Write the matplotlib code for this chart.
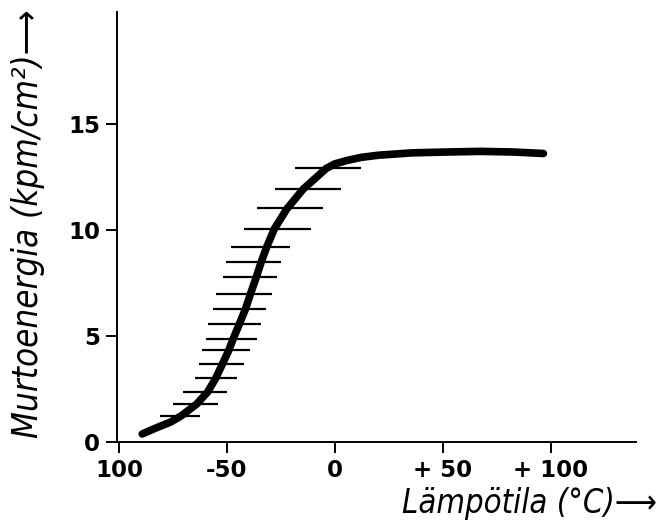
import matplotlib
matplotlib.use('Agg')
import matplotlib.pyplot as plt

# curve (temperature in degC, impact energy in kpm/cm2)
curve_t = [-89.2, -82.9, -76.1, -71.2, -64.0, -58.9, -55.1, -52.1, -49.1,
           -47.1, -44.2, -41.4, -39.1, -36.4, -34.1, -31.5, -28.0, -22.3,
           -14.7, -4.0, 0.0, 6.1, 12.4, 20.3, 35.8, 51.9, 67.5, 83.0, 96.7]
curve_e = [0.38, 0.66, 0.94, 1.23, 1.79, 2.36, 3.02, 3.67, 4.33,
           4.86, 5.57, 6.27, 6.98, 7.77, 8.49, 9.21, 10.06, 10.99,
           11.93, 12.91, 13.13, 13.30, 13.44, 13.54, 13.65, 13.69, 13.72,
           13.69, 13.62]

# scatter band: energy level with left / right temperature limits
band_e = [12.92, 11.93, 11.04, 10.05, 9.20, 8.49, 7.78, 6.98, 6.27,
          5.57, 4.86, 4.34, 3.68, 3.02, 2.36, 1.79, 1.23]
band_lo = [-18.3, -27.5, -36.2, -42.2, -48.2, -50.5, -51.8, -55.0, -56.3,
           -58.6, -59.5, -61.3, -63.1, -64.9, -70.3, -74.8, -81.1]
band_hi = [12.3, 2.8, -5.5, -11.0, -20.6, -24.8, -26.6, -28.9, -31.7,
           -34.4, -36.2, -39.4, -42.2, -45.4, -50.0, -54.1, -62.4]

x_ticks = [-100, -50, 0, 50, 100]
x_labels = ['100', '-50', '0', '+ 50', '+ 100']
y_ticks = [0, 5, 10, 15]
y_labels = ['0', '5', '10', '15']

W, H = 658, 528
fig = plt.figure(figsize=(W / 100, H / 100), dpi=100)
ax = fig.add_axes([117 / W, (H - 442) / H, (636 - 117) / W, (442 - 12) / H])

ax.hlines(band_e, band_lo, band_hi, color='black', linewidth=1.6)
ax.plot(curve_t, curve_e, color='black', linewidth=5.5,
        solid_capstyle='round', solid_joinstyle='round')

ax.set_xlim(-100.9, 139.6)
ax.set_ylim(0, 20.3)

ax.spines.right.set_color('none')
ax.spines.top.set_color('none')
ax.spines.left.set_linewidth(1.4)
ax.spines.bottom.set_linewidth(1.4)

tick_font = dict(family='DejaVu Sans', size=16.5, weight='bold')
ax.set_xticks(x_ticks)
ax.set_xticklabels(x_labels, fontdict=tick_font)
ax.set_yticks(y_ticks)
ax.set_yticklabels(y_labels, fontdict=tick_font)
ax.tick_params(axis='both', direction='out', width=1.4, length=8, pad=4)

label_font = dict(family='DejaVu Sans', style='oblique', stretch='condensed')
fig.text(28 / W, (H - 224) / H, 'Murtoenergia (kpm/cm²)⟶', rotation=90,
         ha='center', va='center', size=25, **label_font)
fig.text(529 / W, 25 / H, 'Lämpötila (°C)⟶', ha='center', va='center',
         size=23.5, **label_font)

fig.savefig('out.png', dpi=100)
